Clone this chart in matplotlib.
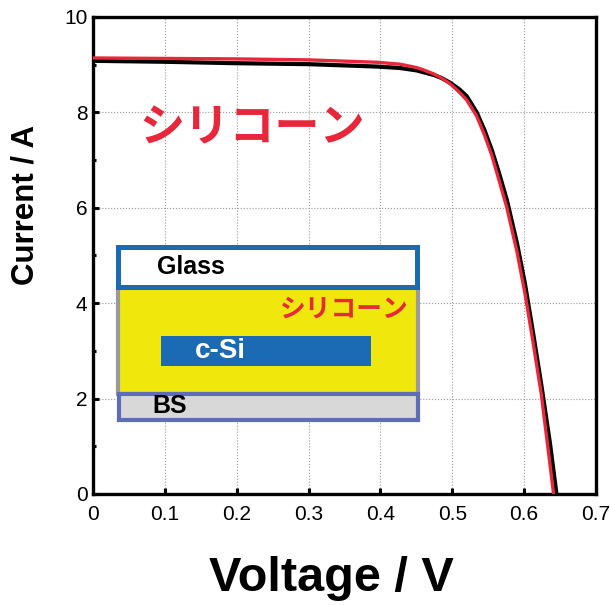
import matplotlib
matplotlib.use("Agg")
import matplotlib.pyplot as plt
from matplotlib.patches import Rectangle
from matplotlib.ticker import MultipleLocator

# I-V data
# black: reference module, red: silicone-encapsulated module
v_black = [0.0, 0.1, 0.2, 0.3, 0.395, 0.427, 0.45, 0.46, 0.475, 0.485, 0.497,
           0.51, 0.52, 0.534, 0.545, 0.555, 0.565, 0.576, 0.590, 0.601, 0.612,
           0.624, 0.636, 0.645]
i_black = [9.08, 9.06, 9.03, 9.01, 8.96, 8.93, 8.88, 8.84, 8.78, 8.72, 8.62,
           8.48, 8.34, 8.00, 7.62, 7.21, 6.73, 6.16, 5.26, 4.42, 3.42,
           2.28, 1.06, 0.0]

v_red = [0.0, 0.1, 0.2, 0.3, 0.395, 0.427, 0.45, 0.46, 0.475, 0.485, 0.497,
         0.51, 0.52, 0.534, 0.545, 0.555, 0.565, 0.576, 0.590, 0.601, 0.612,
         0.624, 0.636, 0.641]
i_red = [9.14, 9.13, 9.12, 9.10, 9.05, 9.01, 8.94, 8.89, 8.80, 8.72, 8.60,
         8.42, 8.26, 7.92, 7.52, 7.10, 6.58, 6.00, 5.08, 4.22, 3.22,
         2.08, 0.62, 0.0]

RED = '#e8283a'
BLUE = '#1a6bb4'
JP = ['Noto Sans CJK JP', 'DejaVu Sans']

plt.rcParams['font.family'] = ['Liberation Sans', 'DejaVu Sans']


def main():
    fig = plt.figure(figsize=(6.1, 6.05), dpi=100)
    ax = fig.add_axes([0.1525, 0.1835, 0.8245, 0.7885])

    ax.plot(v_black, i_black, color='black', lw=3.0, zorder=4)
    ax.plot(v_red, i_red, color=RED, lw=2.4, zorder=5)

    ax.set_xlim(0, 0.7)
    ax.set_ylim(0, 10)
    ax.yaxis.set_major_locator(MultipleLocator(2))
    ax.yaxis.set_minor_locator(MultipleLocator(1))
    ax.set_xticks([0, 0.1, 0.2, 0.3, 0.4, 0.5, 0.6, 0.7])
    ax.set_xticklabels(['0', '0.1', '0.2', '0.3', '0.4', '0.5', '0.6', '0.7'])

    ax.grid(True, which='major', ls=':', color='#999999', lw=0.8, zorder=0)
    ax.tick_params(which='both', direction='in', top=False, right=False,
                   width=2.2, labelsize=15)
    ax.tick_params(axis='x', which='major', length=4.5, pad=8)
    ax.tick_params(axis='y', which='major', length=4.5, pad=4)
    ax.tick_params(axis='y', which='minor', length=2.5)
    for s in ax.spines.values():
        s.set_linewidth(2.4)

    ax.set_xlabel('Voltage / V', fontsize=35, fontweight='bold')
    ax.xaxis.set_label_coords(0.473, -0.131)
    ax.set_ylabel('Current / A', fontsize=22.5, fontweight='bold')
    ax.yaxis.set_label_coords(-0.105, 0.606)

    # big label
    ax.text(0.221, 7.67, 'シリコーン', color=RED, fontsize=32.5,
            fontweight='bold', family=JP, ha='center', va='center', zorder=6)

    # module cross-section sketch
    ax.add_patch(Rectangle((0.0348, 2.10), 0.4172, 2.22, facecolor='#f0e80c',
                           edgecolor='#9a9a9a', lw=3.0, zorder=3))
    ax.add_patch(Rectangle((0.0345, 4.33), 0.4168, 0.84, facecolor='white',
                           edgecolor=BLUE, lw=3.6, zorder=3))
    ax.add_patch(Rectangle((0.0362, 1.55), 0.4158, 0.55, facecolor='#d8d8d8',
                           edgecolor='#5d6db7', lw=3.0, zorder=3))
    ax.add_patch(Rectangle((0.0946, 2.68), 0.292, 0.63, facecolor=BLUE,
                           edgecolor='none', zorder=3))

    ax.text(0.089, 4.76, 'Glass', fontsize=18, fontweight='bold',
            ha='left', va='center', zorder=6)
    ax.text(0.350, 3.88, 'シリコーン', color=RED, fontsize=18.5,
            fontweight='bold', family=JP, ha='center', va='center', zorder=6)
    ax.text(0.142, 2.99, 'c-Si', color='white', fontsize=20, fontweight='bold',
            ha='left', va='center', zorder=6)
    ax.text(0.083, 1.84, 'BS', fontsize=18, fontweight='bold',
            ha='left', va='center', zorder=6)

    fig.savefig('out.png', dpi=100)


if __name__ == '__main__':
    main()
